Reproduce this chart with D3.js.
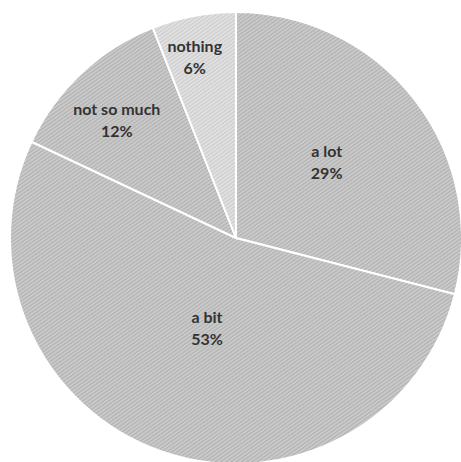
<!DOCTYPE html>
<html>
<head>
<meta charset="utf-8">
<script src="https://cdn.jsdelivr.net/npm/d3@7"></script>
<style>
  html, body { margin: 0; padding: 0; background: #fff; }
  svg { display: block; }
</style>
</head>
<body>
<div id="chart"></div>
<script>
// data
const categories = ["a lot", "a bit", "not so much", "nothing"];
const values = [29, 53, 12, 6];
const valueLabels = ["29%", "53%", "12%", "6%"];

// layout
const width = 461, height = 462;
const cx = 236, cy = 238, radius = 226;
const labelRadius = [118, 95, 168, 186]; // where each label sits, px from center
const labelShift = -2 * Math.PI / 180;   // labels sit a touch counter-clockwise of mid angle
const fills = ["#c9c9c9", "#c9c9c9", "#c9c9c9", "#e0e0e0"];
const stripes = ["#b0b0b0", "#b0b0b0", "#b0b0b0", "#cbcbcb"];

const svg = d3.select('#chart').append('svg')
  .attr('width', width)
  .attr('height', height);

const defs = svg.append('defs');
fills.forEach((f, i) => {
  const p = defs.append('pattern')
    .attr('id', `hatch-${i}`)
    .attr('patternUnits', 'userSpaceOnUse')
    .attr('width', 3)
    .attr('height', 3)
    .attr('patternTransform', 'rotate(-35)');
  p.append('rect').attr('width', 3).attr('height', 3).attr('fill', f);
  p.append('rect').attr('width', 3).attr('height', 1).attr('fill', stripes[i]);
});

const pie = d3.pie().sort(null).value(d => d);
const arcs = pie(values);
const arc = d3.arc().innerRadius(0).outerRadius(radius);

const g = svg.append('g').attr('transform', `translate(${cx},${cy})`);

g.selectAll('path.slice')
  .data(arcs)
  .enter()
  .append('path')
  .attr('class', 'slice')
  .attr('d', arc)
  .attr('fill', (d, i) => `url(#hatch-${i})`)
  .attr('stroke', '#fff')
  .attr('stroke-width', 2);

// labels: category on first line, percentage below
const labels = g.selectAll('g.label')
  .data(arcs)
  .enter()
  .append('g')
  .attr('class', 'label')
  .attr('transform', (d, i) => {
    const a = (d.startAngle + d.endAngle) / 2 + labelShift;
    const r = labelRadius[i];
    return `translate(${r * Math.sin(a)},${-r * Math.cos(a)})`;
  });

labels.append('text')
  .attr('y', -5)
  .attr('text-anchor', 'middle')
  .style('font-family', 'Lato, "Open Sans", sans-serif')
  .style('font-size', '16px')
  .style('font-weight', 'bold')
  .style('fill', '#333')
  .text((d, i) => categories[i]);

labels.append('text')
  .attr('y', 17)
  .attr('text-anchor', 'middle')
  .style('font-family', 'Lato, "Open Sans", sans-serif')
  .style('font-size', '16px')
  .style('font-weight', 'bold')
  .style('fill', '#333')
  .text((d, i) => valueLabels[i]);
</script>
</body>
</html>
